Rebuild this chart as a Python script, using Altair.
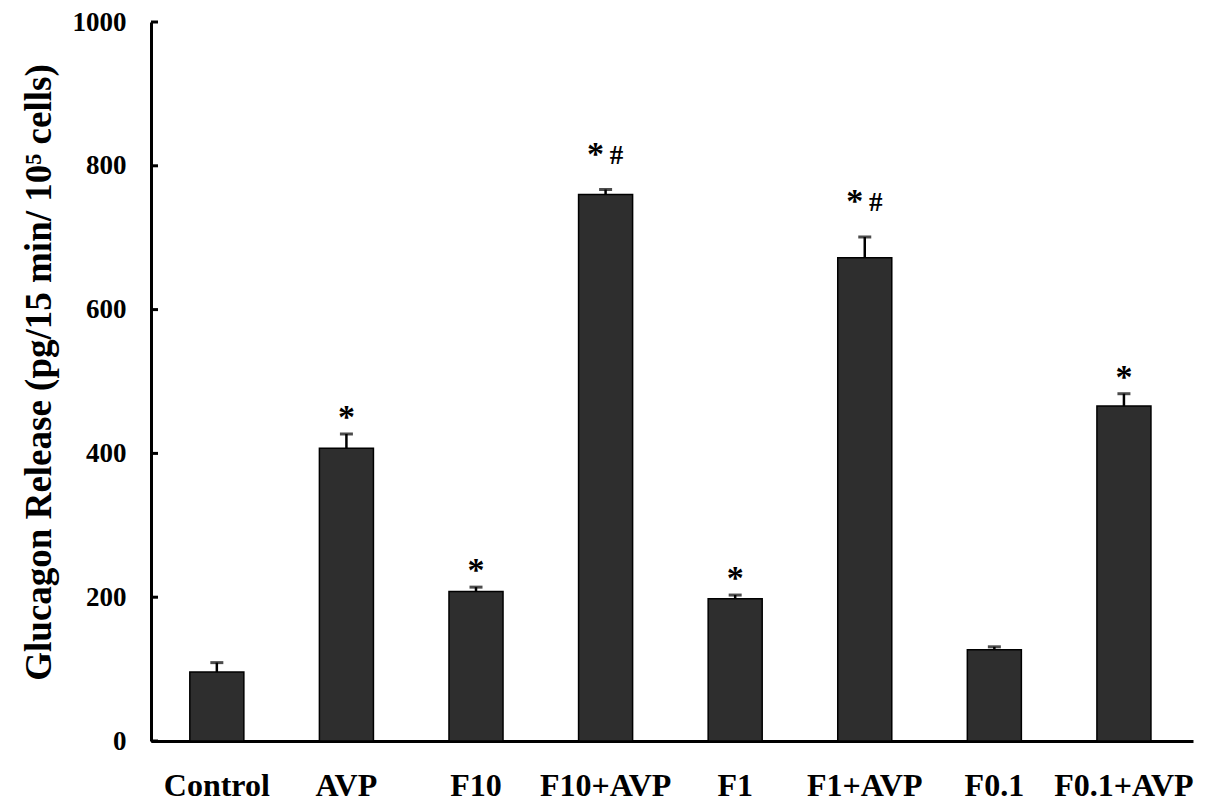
import altair as alt
import pandas as pd

categories = ["Control", "AVP", "F10", "F10+AVP", "F1", "F1+AVP", "F0.1", "F0.1+AVP"]
means = [96, 407, 208, 760, 198, 672, 127, 466]
sems = [13, 20, 6, 7, 5, 29, 4, 17]
signif = ["", "*", "*", "*#", "*", "*#", "", "*"]
y_ticks = [0, 200, 400, 600, 800, 1000]

FONT = "Liberation Serif"
TITLE = "Glucagon Release (pg/15 min/ 10\u2075 cells)"

df = pd.DataFrame({"cat": categories, "mean": means, "sem": sems, "sig": signif})
df["top"] = df["mean"] + df["sem"]

yscale = alt.Scale(domain=[0, 1000], nice=False)
xscale = alt.Scale(paddingInner=0.583, paddingOuter=0.312, align=0.48)

xaxis = alt.Axis(
    title=None, labelAngle=0, ticks=False, labelPadding=29,
    labelFont=FONT, labelFontSize=32, labelFontWeight="bold", labelColor="black",
    domainColor="black", domainWidth=3,
)
yaxis = alt.Axis(
    values=y_ticks, format="d", ticks=False, grid=False, labelPadding=25,
    labelFont=FONT, labelFontSize=27, labelFontWeight="bold", labelColor="black",
    domainColor="black", domainWidth=3,
    title=TITLE, titleFont=FONT, titleFontSize=37, titleFontWeight="bold",
    titleColor="black", titlePadding=14, titleY=350,
)


def X():
    return alt.X("cat:N", sort=categories, scale=xscale, axis=xaxis)


def Y(field):
    return alt.Y(field, scale=yscale, axis=yaxis, title=TITLE)


base = alt.Chart(df)

bars = base.mark_bar(color="#2e2e2e", stroke="black", strokeWidth=1.5).encode(
    x=X(), y=Y("mean:Q")
)

err = base.mark_rule(color="black", strokeWidth=2.5).encode(
    x=X(), y=Y("mean:Q"), y2="top:Q"
)

cap = base.mark_tick(color="black", size=13, thickness=3).encode(
    x=X(), y=Y("top:Q")
)

star1 = base.transform_filter(alt.datum.sig == "*").mark_text(
    text="*", font=FONT, fontSize=34, fontWeight="bold", color="black",
    baseline="alphabetic", dy=-6,
).encode(x=X(), y=Y("top:Q"))

star2 = base.transform_filter(alt.datum.sig == "*#").mark_text(
    text="*", font=FONT, fontSize=34, fontWeight="bold", color="black",
    baseline="alphabetic", dx=-10, dy=-25,
).encode(x=X(), y=Y("top:Q"))

hash2 = base.transform_filter(alt.datum.sig == "*#").mark_text(
    text="#", font=FONT, fontSize=27, fontWeight="bold", color="black",
    baseline="alphabetic", dx=11, dy=-26,
).encode(x=X(), y=Y("top:Q"))

ticks = alt.Chart(pd.DataFrame({"v": y_ticks})).mark_rule(color="black", strokeWidth=3).encode(
    y=alt.Y("v:Q", scale=yscale, axis=yaxis, title=TITLE),
    x=alt.value(0),
    x2=alt.value(7),
)

chart = (
    alt.layer(bars, err, cap, star1, star2, hash2, ticks)
    .properties(
        width=1042, height=719,
        autosize=alt.AutoSizeParams(type="none"),
        padding={"left": 143, "top": 14, "right": 11, "bottom": 60},
        background="white",
    )
    .configure_view(strokeWidth=0)
)

chart.save("out.html", embed_options={"renderer": "svg", "actions": False})
